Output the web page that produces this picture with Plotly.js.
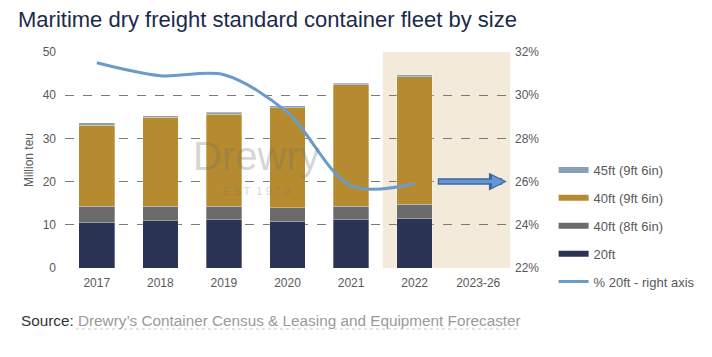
<!DOCTYPE html>
<html>
<head>
<meta charset="utf-8">
<script src="https://cdn.plot.ly/plotly-3.0.1.min.js"></script>
<style>html,body{margin:0;padding:0;background:#fff;}#chart{width:712px;height:357px;}</style>
</head>
<body>
<div id="chart"></div>
<script>
var categories = ["2017", "2018", "2019", "2020", "2021", "2022", "2023-26"];
var fleet20ft = [10.6, 10.9, 11.2, 10.8, 11.2, 11.5, null];
var fleet40ft86 = [3.7, 3.4, 3.1, 3.1, 3.1, 3.3, null];
var fleet40ft96 = [18.8, 20.6, 21.3, 23.2, 28.1, 29.5, null];
var fleet45ft96 = [0.5, 0.4, 0.5, 0.5, 0.4, 0.4, null];
var pct20ft = [31.5, 30.9, 30.95, 29.2, 25.8, 25.9, null];
var forecastPct = 26;
var seriesNames = ["45ft (9ft 6in)", "40ft (9ft 6in)", "40ft (8ft 6in)", "20ft", "% 20ft - right axis"];

var colors = {c20: "#2b3455", c86: "#6b6b6b", c96: "#b68b2f", c45: "#8aa1b5", line: "#6b9bc7"};
var font = "Liberation Sans, Arial, sans-serif";

function bar(vals, color, group) {
  return {type: "bar", x: categories, y: vals, marker: {color: color, line: {color: "rgba(255,255,255,0.6)", width: 0.5}},
    showlegend: false, legendgroup: group, hoverinfo: "skip", width: 0.56};
}
function legendItem(name, color, group) {
  return {type: "scatter", mode: "lines", x: [null], y: [null], name: name, legendgroup: group,
    line: {color: color, width: 6}, hoverinfo: "skip"};
}

var traces = [
  bar(fleet20ft, colors.c20, "g4"),
  bar(fleet40ft86, colors.c86, "g3"),
  bar(fleet40ft96, colors.c96, "g2"),
  bar(fleet45ft96, colors.c45, "g1"),
  legendItem(seriesNames[0], colors.c45, "g1"),
  legendItem(seriesNames[1], colors.c96, "g2"),
  legendItem(seriesNames[2], colors.c86, "g3"),
  legendItem(seriesNames[3], colors.c20, "g4"),
  {type: "scatter", mode: "lines", x: categories, y: pct20ft, yaxis: "y2", name: seriesNames[4], legendgroup: "g5",
   line: {color: colors.line, width: 3, shape: "spline", smoothing: 0.9}, hoverinfo: "skip", connectgaps: false}
];

var layout = {
  width: 712, height: 357,
  margin: {l: 65, r: 198, t: 52, b: 89},
  paper_bgcolor: "#ffffff", plot_bgcolor: "#ffffff",
  barmode: "stack",
  font: {family: font, size: 12, color: "#595959"},
  title: {text: "Maritime dry freight standard container fleet by size", font: {family: font, size: 22, color: "#1b2a4b"},
    xref: "container", yref: "container", x: 18/712, xanchor: "left", y: 1 - 19/357, yanchor: "middle"},
  xaxis: {type: "category", range: [-0.5, 6.5], showgrid: false, zeroline: false, showline: false, ticks: "",
    ticklabelstandoff: 6, tickfont: {family: font, size: 12, color: "#595959"}, fixedrange: true},
  yaxis: {range: [0, 50], dtick: 10, showgrid: true, gridcolor: "#7a7a7a", griddash: "dash", gridwidth: 1,
    zeroline: false, showline: false, ticks: "", ticklabelstandoff: 8,
    tickfont: {family: font, size: 12, color: "#595959"},
    title: {text: "Million teu", font: {family: font, size: 12, color: "#595959"}, standoff: 6}, fixedrange: true},
  yaxis2: {overlaying: "y", side: "right", range: [22, 32], dtick: 2, ticksuffix: "%", showgrid: false, zeroline: false,
    showline: false, ticks: "", ticklabelstandoff: 4, tickfont: {family: font, size: 12, color: "#595959"}, fixedrange: true},
  legend: {x: (558 - 65) / 449, xanchor: "left", y: (268 - 226) / 216, yanchor: "middle", traceorder: "grouped",
    tracegroupgap: 8, font: {family: font, size: 13, color: "#595959"}, bgcolor: "rgba(0,0,0,0)"},
  shapes: [
    {type: "rect", xref: "x", yref: "y", x0: 4.5, x1: 6.5, y0: 0, y1: 50, fillcolor: "#f3eada", line: {width: 0}, layer: "below"},
    {type: "line", xref: "paper", yref: "paper", x0: (76 - 65) / 449, x1: (522 - 65) / 449, y0: (268 - 329) / 216, y1: (268 - 329) / 216,
     line: {color: "#c8c8c8", width: 1, dash: "dot"}}
  ],
  annotations: [
    {x: 6.45, y: forecastPct, xref: "x", yref: "y2", ax: 5.34, ay: forecastPct, axref: "x", ayref: "y2", text: "",
     showarrow: true, arrowhead: 2, arrowsize: 0.55, arrowwidth: 6.5, arrowcolor: "#3a67a3"},
    {x: 6.41, y: forecastPct, xref: "x", yref: "y2", ax: 5.36, ay: forecastPct, axref: "x", ayref: "y2", text: "",
     showarrow: true, arrowhead: 2, arrowsize: 0.7, arrowwidth: 3.5, arrowcolor: "#6496d6"},
    {x: (258 - 65) / 449, y: (268 - 156) / 216, xref: "paper", yref: "paper", text: "Drewry", showarrow: false,
     font: {family: font, size: 40, color: "rgba(110,110,110,0.3)"}},
    {x: (258 - 65) / 449, y: (268 - 191) / 216, xref: "paper", yref: "paper", text: "E S T  1 9 7 0", showarrow: false,
     font: {family: font, size: 11, color: "rgba(110,110,110,0.3)"}},
    {x: (19 - 65) / 449, y: (268 - 320) / 216, xref: "paper", yref: "paper", xanchor: "left", yanchor: "middle", showarrow: false,
     text: "<span style='color:#333333'>Source:</span> <span style='color:#9a9a9a'>Drewry\u2019s Container Census &amp; Leasing and Equipment Forecaster</span>",
     font: {family: font, size: 15.3}}
  ]
};

Plotly.newPlot("chart", traces, layout, {displayModeBar: false, staticPlot: true});
</script>
</body>
</html>
